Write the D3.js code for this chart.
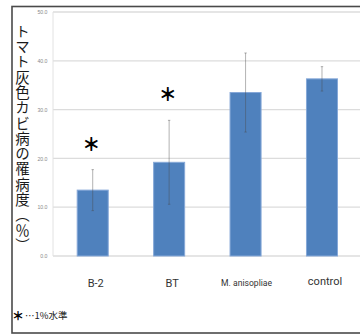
<!DOCTYPE html>
<html>
<head>
<meta charset="utf-8">
<script src="https://cdn.jsdelivr.net/npm/d3@7"></script>
<style>
  html, body { margin: 0; padding: 0; background: #fff; }
  svg { display: block; }
</style>
</head>
<body>
<svg id="chart" width="360" height="336"></svg>
<script>
// Grey mould severity on tomato by treatment
const categories = ["B-2", "BT", "M. anisopliae", "control"];
const severity = [13.5, 19.2, 33.5, 36.3];
const errors = [4.2, 8.6, 8.1, 2.5];
const significant = [true, true, false, false];
const yTicks = [0, 10, 20, 30, 40, 50];
const yTitle = "トマト灰色カビ病の罹病度（％）";
const legendText = "…1%水準";

const svg = d3.select("#chart");

// outer frame
svg.append("rect")
  .attr("x", 12).attr("y", 6.5)
  .attr("width", 380).attr("height", 326.5)
  .attr("fill", "none").attr("stroke", "#4a4a4a").attr("stroke-width", 1.6);

const x = d3.scaleBand()
  .domain(categories)
  .range([54.5, 360.2])
  .paddingInner(0.594)
  .paddingOuter(0.297);

const y = d3.scaleLinear().domain([0, 50]).range([256, 12]);

// gridlines
svg.append("g").selectAll("line")
  .data(yTicks)
  .join("line")
  .attr("x1", 53).attr("x2", 360)
  .attr("y1", d => y(d)).attr("y2", d => y(d))
  .attr("stroke", "#dcdcdc").attr("stroke-width", 1.3);

// vertical axis line
svg.append("line")
  .attr("x1", 53).attr("x2", 53)
  .attr("y1", y(50)).attr("y2", y(0))
  .attr("stroke", "#e2e2e2").attr("stroke-width", 1);

// y tick labels
const yAxis = d3.axisLeft(y).tickValues(yTicks).tickFormat(d3.format(".1f")).tickSize(0).tickPadding(3);
const gy = svg.append("g").attr("transform", "translate(50.5,0)").call(yAxis);
gy.select(".domain").remove();
gy.selectAll("text")
  .attr("font-family", "Liberation Sans, sans-serif")
  .attr("font-size", 5.2)
  .attr("fill", "#8a8a8a");

// bars
svg.append("g").selectAll("rect")
  .data(categories)
  .join("rect")
  .attr("x", d => x(d))
  .attr("y", (d, i) => y(severity[i]))
  .attr("width", x.bandwidth())
  .attr("height", (d, i) => y(0) - y(severity[i]))
  .attr("fill", "#4f81bd")
  .attr("stroke", "#86a8d8")
  .attr("stroke-width", 1);

// error bars
const eg = svg.append("g").attr("stroke", "#4a4a4a").attr("stroke-opacity", 0.42).attr("stroke-width", 1);
categories.forEach((c, i) => {
  const cx = x(c) + x.bandwidth() / 2;
  const top = y(severity[i] + errors[i]);
  const bot = y(severity[i] - errors[i]);
  eg.append("line").attr("x1", cx).attr("x2", cx).attr("y1", top).attr("y2", bot);
  eg.append("line").attr("x1", cx - 1.2).attr("x2", cx + 1.2).attr("y1", top).attr("y2", top);
  eg.append("line").attr("x1", cx - 1.2).attr("x2", cx + 1.2).attr("y1", bot).attr("y2", bot);
});

// significance marks
svg.append("g").selectAll("text")
  .data(categories.filter((c, i) => significant[i]))
  .join("text")
  .attr("x", d => x(d) + x.bandwidth() / 2 - 1.5)
  .attr("y", d => y(severity[categories.indexOf(d)] + errors[categories.indexOf(d)]) - 27)
  .attr("text-anchor", "middle")
  .attr("dominant-baseline", "central")
  .attr("font-family", "Noto Sans CJK JP, sans-serif")
  .attr("font-weight", 900)
  .attr("font-size", 18)
  .attr("fill", "#000")
  .text("＊");

// category labels
svg.append("g").selectAll("text")
  .data(categories)
  .join("text")
  .attr("x", d => x(d) + x.bandwidth() / 2 + (d === "M. anisopliae" ? 1 : 3))
  .attr("y", d => d === "control" ? 281 : 283)
  .attr("text-anchor", "middle")
  .attr("dominant-baseline", "central")
  .attr("font-family", "Roboto, sans-serif")
  .attr("font-size", d => d === "M. anisopliae" ? 8.6 : 11)
  .attr("fill", "#333")
  .text(d => d);

// y axis title, written vertically
svg.append("text")
  .attr("x", 22.5)
  .attr("y", 24)
  .attr("style", "writing-mode: vertical-rl; text-orientation: mixed;")
  .attr("font-family", "Noto Sans CJK JP, sans-serif")
  .attr("font-size", 14.5)
  .attr("font-weight", 400)
  .attr("letter-spacing", 0.8)
  .attr("fill", "#1a1a1a")
  .text(yTitle);

// legend
svg.append("text")
  .attr("x", 18).attr("y", 315)
  .attr("text-anchor", "middle")
  .attr("dominant-baseline", "central")
  .attr("font-family", "Noto Sans CJK JP, sans-serif")
  .attr("font-weight", 900)
  .attr("font-size", 12)
  .text("＊");
svg.append("text")
  .attr("x", 25).attr("y", 315)
  .attr("dominant-baseline", "central")
  .attr("font-family", "Noto Sans CJK JP, sans-serif")
  .attr("font-size", 9.5)
  .attr("fill", "#222")
  .text(legendText);
</script>
</body>
</html>
